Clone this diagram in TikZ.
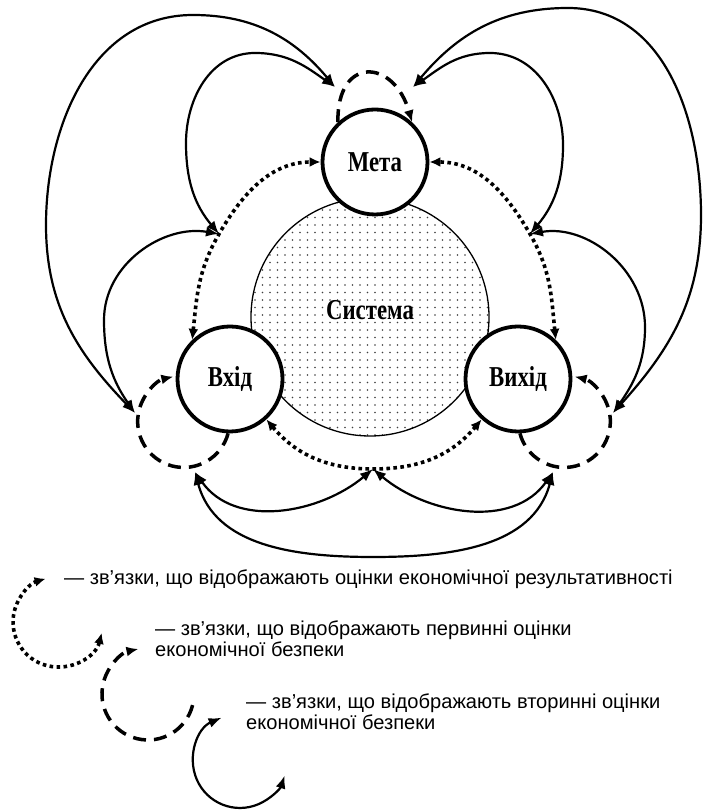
\documentclass[tikz,border=0pt]{standalone}
\usepackage{fontspec}
\usepackage{graphicx}
\setmainfont{Liberation Serif}
\newfontfamily\legfont{Liberation Sans}
\usetikzlibrary{arrows.meta,patterns.meta}
\newcommand{\tallbf}[1]{\scalebox{0.95}[1.2]{#1}}
\begin{document}
\begin{tikzpicture}[x=1pt,y=1pt,
  box/.style={circle, draw, line width=3.8pt, fill=white, minimum size=105pt, inner sep=0pt},
  lbl/.style={font=\fontsize{24}{26}\selectfont\bfseries, inner sep=0pt},
  sec/.style={line width=2.2pt, {Latex[length=13pt,width=10pt]}-{Latex[length=13pt,width=10pt]}},
  prim/.style={line width=3.5pt, dash pattern=on 13pt off 8pt, -{Latex[length=12pt,width=10pt]}},
  eff/.style={line width=3.6pt, dash pattern=on 3.6pt off 3.4pt, {Latex[length=11pt,width=10pt]}-{Latex[length=11pt,width=10pt]}},
  leg/.style={font=\legfont\fontsize{20.1}{21.5}\selectfont, anchor=base west, inner sep=0pt, align=left}
]
\useasboundingbox (0,0) rectangle (702,810);

% system circle
\node (sys) [circle, draw, line width=1.3pt, minimum size=238pt, inner sep=0pt,
  pattern={Dots[distance=7.5pt,radius=0.9pt]}, pattern color=black!75] at (370,493) {};
\node (sysl) [lbl] at (370,500) {\tallbf{Система}};

% main circles
\node (vkhid) [box] at (230,431) {};
\node (vykhid) [box] at (518,431) {};
\node (meta) [box] at (375,648) {};
\node [lbl] at (vkhid) {\tallbf{Вхід}};
\node [lbl] at (vykhid) {\tallbf{Вихід}};
\node [lbl] at (meta) {\tallbf{Мета}};

% junction coordinates
\coordinate (TLa) at (335,723);
\coordinate (TRa) at (413,723);
\coordinate (LLa) at (135,397);
\coordinate (LLb) at (195,338);
\coordinate (RLa) at (613,397);
\coordinate (RLb) at (553,338);
\coordinate (J1) at (219,576);
\coordinate (J2) at (530,576);
\coordinate (J3) at (373,341);

% dotted links (economic effectiveness)
\draw[eff] (vkhid.134) to[out=84,in=240] (J1) to[out=60,in=180] (meta.west);
\draw[eff] (vykhid.46) to[out=96,in=-60] (J2) to[out=120,in=0] (meta.east);
\draw[eff] (vkhid.-48) to[out=-50,in=180] (J3) to[out=0,in=-130] (vykhid.-132);

% dashed loops (primary estimates)
\draw[prim] (meta.133) to[out=91,in=106,looseness=2.3] (meta.47);
\draw[prim] (vkhid.-92) arc[start angle=-15,end angle=-257,radius=46];
\draw[prim] (vykhid.-88) arc[start angle=195,end angle=437,radius=46];

% solid links (secondary estimates)
\draw[sec] (LLa) to[out=134,in=-90] (46,585) to[out=90,in=180] (193,795) to[out=0,in=130] (TLa);
\draw[sec] (J1) to[out=130,in=-90] (186,667) to[out=90,in=180] (255,757) to[out=0,in=145] (TLa);
\draw[sec] (J1) to[out=170,in=90] (104,490) to[out=-90,in=125] (LLa);
\draw[sec] (RLa) to[out=48,in=-90] (701,595) to[out=90,in=0] (568,802) to[out=180,in=50] (TRa);
\draw[sec] (J2) to[out=50,in=-90] (563,665) to[out=90,in=0] (490,757) to[out=180,in=35] (TRa);
\draw[sec] (J2) to[out=10,in=90] (645,483) to[out=-90,in=55] (RLa);
\draw[sec] (LLb) to[out=-75,in=180] (373,253) to[out=0,in=-105] (RLb);
\draw[sec] (LLb) to[out=-55,in=-140] (J3);
\draw[sec] (J3) to[out=-40,in=-125] (RLb);

% legend
\coordinate (l1) at (101.7,177.1);
\draw[eff] (l1) arc[start angle=-14,end angle=-254,radius=45];
\node[leg] (t1) at (64,225) {— зв’язки, що відображають оцінки економічної результативності};
\coordinate (l2) at (192.6,104.9);
\draw[prim] (l2) arc[start angle=-14,end angle=-258,radius=46];
\node[leg] (t2) at (155,153) {— зв’язки, що відображають первинні оцінки\\економічної безпеки};
\coordinate (l3) at (221.6,92.3);
\draw[sec] (l3) arc[start angle=113,end angle=342,radius=47];
\node[leg] (t3) at (246,80) {— зв’язки, що відображають вторинні оцінки\\економічної безпеки};
\end{tikzpicture}
\end{document}
